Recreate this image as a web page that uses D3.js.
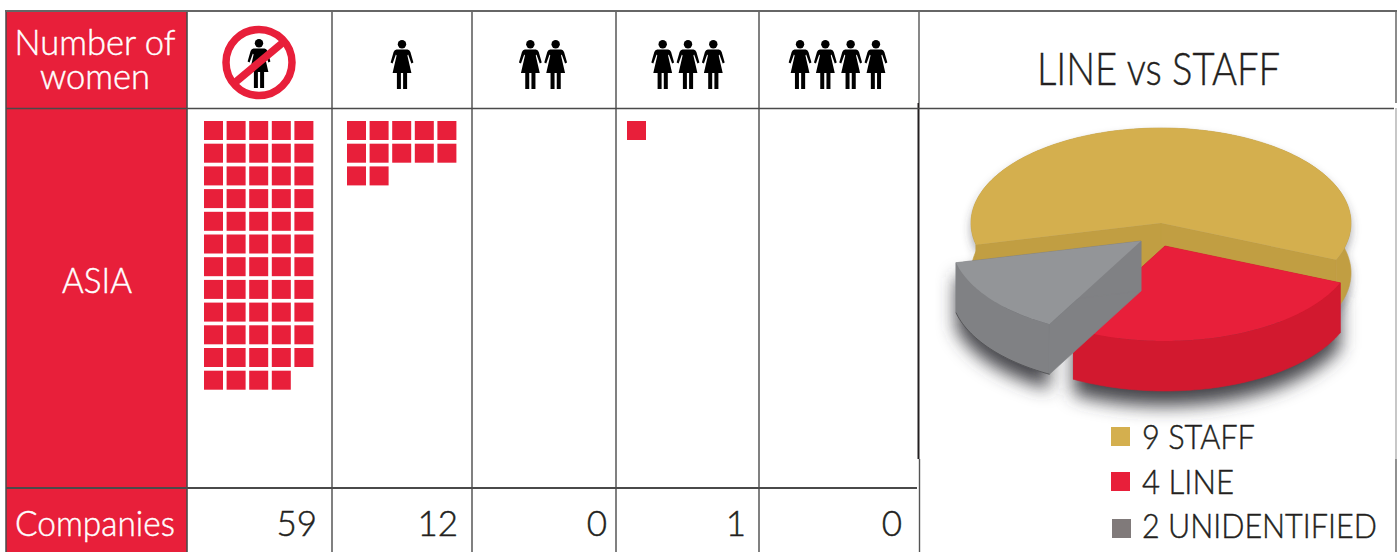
<!DOCTYPE html>
<html>
<head>
<meta charset="utf-8">
<title>Number of women - Asia</title>
<script src="https://cdn.jsdelivr.net/npm/d3@7"></script>
<style>
  html, body { margin: 0; padding: 0; background: #fff; }
  svg { display: block; }
  text { font-family: Lato, "Open Sans", sans-serif; font-weight: 300; stroke-width: 0.45; }
</style>
</head>
<body>
<div id="chart"></div>
<script>
// data
const womenCounts = [0, 1, 2, 3, 4];
const companies = [59, 12, 0, 1, 0];
const region = "ASIA";
const pieKeys = ["STAFF", "LINE", "UNIDENTIFIED"];
const pieValues = [9, 4, 2];

const width = 1399, height = 552;
const RED = "#e81f3a", INK = "#231f20";

// table layout
const colEdges = [187, 332, 472, 616, 759, 918];
const gridStart = [204, 347, 487, 627, 775];
const headerTop = 11, headerBottom = 108.5, rowBottom = 488;
const iconCenter = [259, 402, 543, 688, 838];
const iconGap = 25.3;
const numberRight = [317, 458, 607, 746, 902];

const svg = d3.select("#chart").append("svg")
    .attr("width", width)
    .attr("height", height);

const defs = svg.append("defs");
const blur = (id, dev) => defs.append("filter")
    .attr("id", id)
    .attr("filterUnits", "userSpaceOnUse")
    .attr("x", 880).attr("y", 80).attr("width", 519).attr("height", 380)
    .append("feGaussianBlur").attr("stdDeviation", dev);
blur("soft", 9);
blur("softer", 5);

// red label column
svg.append("rect")
    .attr("x", 6).attr("y", headerTop)
    .attr("width", colEdges[0] - 6).attr("height", height - headerTop)
    .attr("fill", RED);

// grid lines
const rule = (x1, y1, x2, y2, color, w) => svg.append("line")
    .attr("x1", x1).attr("y1", y1).attr("x2", x2).attr("y2", y2)
    .attr("stroke", color).attr("stroke-width", w);

rule(6, headerTop, 6, height, "#4a4a4a", 1.5);
colEdges.slice(0, 5).forEach((x, i) => {
    rule(x, headerTop, x, height, "#4a4a4a", i === 0 ? 1.6 : 1.4);
});
rule(919, headerTop, 919, 103, "#555", 1.4);
rule(918.5, 103, 918.5, 459, "#231f20", 2);
rule(919.5, 459, 919.5, height, "#555", 1.4);
rule(1396, headerTop, 1396, 103, "#666", 1.5);
rule(1396, 108, 1396, 459, "#aaa", 1.3);
rule(1396, 459, 1396, height, "#555", 1.3);
rule(5, headerTop, 1397, headerTop, "#666", 2);
rule(6, headerBottom, 1394, headerBottom, "#4a4a4a", 1.6);
rule(6, rowBottom, 917, rowBottom, "#4a4a4a", 2);

// text stretched or narrowed to the width it has in the picture
const label = (s, x, y, size, len, color) => {
    const t = svg.append("text")
        .attr("font-size", size)
        .attr("fill", color)
        .attr("stroke", color)
        .text(s);
    const sx = len / t.node().getComputedTextLength();
    t.attr("transform", `translate(${x},${y}) scale(${sx},1)`);
    return t;
};

// two lines in one text element
const head = svg.append("text")
    .attr("font-size", 34.5)
    .attr("fill", "#fff")
    .attr("stroke", "#fff")
    .attr("text-anchor", "middle")
    .attr("transform", "translate(95,55)");
head.append("tspan").attr("x", 0).attr("y", 0).text("Number of");
head.append("tspan").attr("x", 0).attr("y", 34).text("women");

label(region, 62, 293, 35, 70, "#fff");
label("Companies", 15, 536, 35, 160, "#fff");

// woman pictogram, origin at the top of the head
const womanBody = "M-5.5,9.5 L5.5,9.5 Q7.5,9.8 8.4,12 L11.4,22.5 L9.4,23.6 L6.1,14.6 "
    + "L5.4,15.5 L9.4,33 L5.1,33 L5.1,49 L1.1,49 L1.1,33 L-1.1,33 L-1.1,49 L-5.1,49 L-5.1,33 "
    + "L-9.4,33 L-5.4,15.5 L-6.1,14.6 L-9.4,23.6 L-11.4,22.5 L-8.4,12 Q-7.5,9.8 -5.5,9.5 Z";

const woman = (cx, top) => {
    const g = svg.append("g").attr("transform", `translate(${cx},${top})`);
    g.append("circle").attr("cy", 4.2).attr("r", 4.2).attr("fill", "#000");
    g.append("path").attr("d", womanBody).attr("fill", "#000");
};

womenCounts.forEach((n, i) => {
    const first = iconCenter[i] - (n - 1) * iconGap / 2;
    if (n === 0) {
        woman(iconCenter[i], 39);
    } else {
        d3.range(n).forEach(k => woman(first + k * iconGap, 40));
    }
});

// the "no women" sign on top of its pictogram
const noR = 33, noA = 40 * Math.PI / 180;
svg.append("circle")
    .attr("cx", iconCenter[0]).attr("cy", 62.5).attr("r", noR)
    .attr("fill", "none").attr("stroke", RED).attr("stroke-width", 7.5);
svg.append("line")
    .attr("x1", iconCenter[0] - noR * Math.cos(noA)).attr("y1", 62.5 + noR * Math.sin(noA))
    .attr("x2", iconCenter[0] + noR * Math.cos(noA)).attr("y2", 62.5 - noR * Math.sin(noA))
    .attr("stroke", RED).attr("stroke-width", 7.5);

// unit squares, one per company, five to a row
const pitchX = d3.scaleLinear().domain([0, 1]).range([0, 22.6]);
const pitchY = d3.scaleLinear().domain([0, 1]).range([121, 143.7]);

companies.forEach((n, col) => {
    svg.append("g").selectAll("rect")
        .data(d3.range(n))
        .join("rect")
        .attr("x", d => gridStart[col] + pitchX(d % 5))
        .attr("y", d => pitchY(Math.floor(d / 5)))
        .attr("width", 19).attr("height", 19)
        .attr("fill", RED);

    svg.append("text")
        .attr("x", numberRight[col]).attr("y", 536)
        .attr("text-anchor", "end")
        .attr("font-size", 35)
        .attr("fill", INK)
        .attr("stroke", INK)
        .text(n);
});

// right panel
label("LINE vs STAFF", 1037, 85, 45, 243, INK);

// 3D pie: d3.pie angles projected onto an ellipse and extruded
const pieFill = {
    STAFF: { top: "#d4af4e", side: "#c19e42", dx: 0, dy: 0 },
    LINE: { top: "#e81f3a", side: "#d2192f", dx: 4, dy: 23 },
    UNIDENTIFIED: { top: "#939598", side: "#808184", dx: -20, dy: 18 }
};
const cx = 1161, cy = 223, rx = 190, ry = 95, depth = 50;
const startDeg = 256.8;

const slices = d3.pie()
    .sort(null)
    .startAngle(startDeg * Math.PI / 180)
    .endAngle((startDeg + 360) * Math.PI / 180)(pieValues);

const line = d3.line();
const toXY = (a, o, drop) => {
    const t = a - Math.PI / 2;
    return [cx + o.dx + rx * Math.cos(t), cy + o.dy + drop + ry * Math.sin(t)];
};
const rim = (d, o, drop) => {
    const steps = Math.ceil((d.endAngle - d.startAngle) / 0.02);
    return d3.range(steps + 1).map(i => toXY(d.startAngle + (d.endAngle - d.startAngle) * i / steps, o, drop));
};
const apex = (o, drop) => [cx + o.dx, cy + o.dy + drop];

const shadowG = svg.append("g");
const pieG = svg.append("g");

slices.forEach((d, i) => {
    const o = pieFill[pieKeys[i]];
    const top = rim(d, o, 0), low = rim(d, o, depth);
    const outline = [apex(o, 0), ...top];
    const wall = [...top, ...low.slice().reverse()];
    const first = top[0], last = top[top.length - 1];

    // shadows go first so no slice is darkened by a neighbour
    const isMain = i === 0;
    shadowG.append("path")
        .attr("d", line(wall) + "Z " + line(outline) + "Z")
        .attr("fill", "#3c3c40")
        .attr("fill-opacity", isMain ? 0.45 : 0.95)
        .attr("transform", `translate(0,${isMain ? 6 : 15})`)
        .attr("filter", isMain ? "url(#softer)" : "url(#soft)");

    // cut faces, then the outer wall, then the top
    [first, last].forEach(p => {
        pieG.append("path")
            .attr("d", line([apex(o, 0), p, [p[0], p[1] + depth], apex(o, depth)]) + "Z")
            .attr("fill", o.side)
            .attr("stroke", o.side)
            .attr("stroke-width", 0.6);
    });
    pieG.append("path")
        .attr("d", line(wall) + "Z")
        .attr("fill", o.side)
        .attr("stroke", o.side)
        .attr("stroke-width", 0.6);
    pieG.append("path").attr("d", line(outline) + "Z").attr("fill", o.top);

    // the grey slice has a thin dark lower edge
    if (pieKeys[i] === "UNIDENTIFIED") {
        pieG.append("path")
            .attr("d", line(low))
            .attr("fill", "none")
            .attr("stroke", "#4a4a4c")
            .attr("stroke-width", 0.8);
    }
});

// legend
const legendBase = [449, 494, 538];
const legendLen = [113, 92, 235];
const legendSwatch = ["#d4af4e", "#e81f3a", "#807a7a"];
const legendSwatchX = [1111, 1111, 1112];
const legendSwatchY = [427, 472, 519];
pieKeys.forEach((k, i) => {
    svg.append("rect")
        .attr("x", legendSwatchX[i]).attr("y", legendSwatchY[i])
        .attr("width", 19).attr("height", 19)
        .attr("fill", legendSwatch[i]);
    label(`${pieValues[i]} ${k}`, 1142, legendBase[i], 34, legendLen[i], INK);
});
</script>
</body>
</html>
